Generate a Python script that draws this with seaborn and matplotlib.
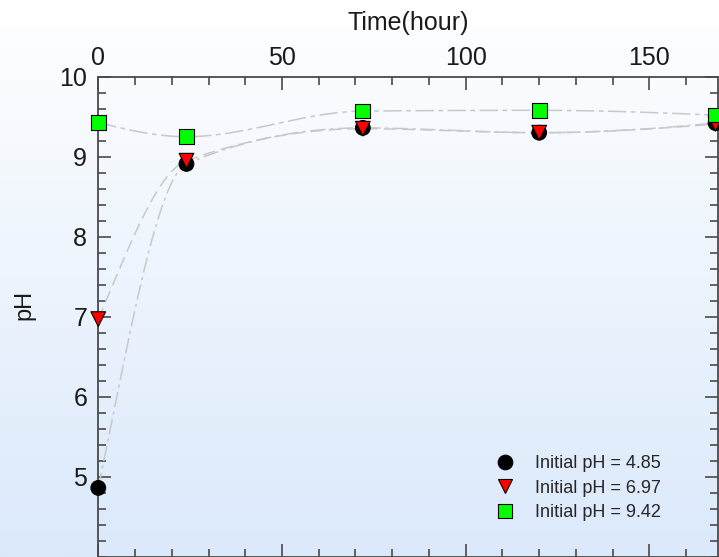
import numpy as np
import pandas as pd
import matplotlib
matplotlib.use("Agg")
import matplotlib.pyplot as plt
from matplotlib.colors import LinearSegmentedColormap
from matplotlib.lines import Line2D
from matplotlib.ticker import MultipleLocator
import seaborn as sns

# values
time_h = [0, 24, 72, 120, 168]
ph_485 = [4.86, 8.91, 9.36, 9.30, 9.42]
ph_697 = [6.97, 8.95, 9.35, 9.30, 9.41]
ph_942 = [9.43, 9.25, 9.57, 9.58, 9.52]
series_labels = ["Initial pH = 4.85", "Initial pH = 6.97", "Initial pH = 9.42"]
series_colors = ["#000000", "#ff0000", "#00ff00"]
series_markers = ["o", "v", "s"]
series_dashes = [(0, (10, 3, 2, 3)), (0, (8, 4)), (0, (12, 3, 3, 3))]


def pchip(x, y, xs):
    # monotone cubic (Fritsch-Carlson) used only to draw the smooth guide curves
    x = np.asarray(x, float)
    y = np.asarray(y, float)
    h = np.diff(x)
    d = np.diff(y) / h
    n = len(x)
    m = np.zeros(n)
    for k in range(1, n - 1):
        if d[k - 1] * d[k] > 0:
            w1 = 2 * h[k] + h[k - 1]
            w2 = h[k] + 2 * h[k - 1]
            m[k] = (w1 + w2) / (w1 / d[k - 1] + w2 / d[k])

    def end(h0, h1, d0, d1):
        s = ((2 * h0 + h1) * d0 - h0 * d1) / (h0 + h1)
        if np.sign(s) != np.sign(d0):
            s = 0.0
        elif np.sign(d0) != np.sign(d1) and abs(s) > abs(3 * d0):
            s = 3 * d0
        return s

    m[0] = end(h[0], h[1], d[0], d[1])
    m[-1] = end(h[-1], h[-2], d[-1], d[-2])
    idx = np.clip(np.searchsorted(x, xs) - 1, 0, n - 2)
    t = (xs - x[idx]) / h[idx]
    h00 = 2 * t**3 - 3 * t**2 + 1
    h10 = t**3 - 2 * t**2 + t
    h01 = -2 * t**3 + 3 * t**2
    h11 = t**3 - t**2
    return h00 * y[idx] + h10 * h[idx] * m[idx] + h01 * y[idx + 1] + h11 * h[idx] * m[idx + 1]


sns.set_theme(style="ticks")
plt.rcParams["font.family"] = ["Liberation Sans", "DejaVu Sans"]

df = pd.DataFrame({
    "time": time_h * 3,
    "pH": ph_485 + ph_697 + ph_942,
    "series": [series_labels[0]] * 5 + [series_labels[1]] * 5 + [series_labels[2]] * 5,
})

fig = plt.figure(figsize=(7.19, 5.57), dpi=100)

# background gradient, white at top to pale blue at bottom
bg = fig.add_axes([0, 0, 1, 1], zorder=-10)
grad = np.linspace(0, 1, 256).reshape(-1, 1)
cmap = LinearSegmentedColormap.from_list("bg", ["#ffffff", "#dbe9fb"])
bg.imshow(grad, aspect="auto", cmap=cmap, extent=[0, 1, 0, 1], origin="upper")
bg.axis("off")

ax = fig.add_axes([0.1367, 0.0005, 0.8626, 0.8618])
ax.set_facecolor("none")

xs = np.linspace(0, 168, 400)
for vals, dash in zip([ph_485, ph_697, ph_942], series_dashes):
    ax.plot(xs, pchip(time_h, vals, xs), color="#c8c8c8", lw=1.1, linestyle=dash, zorder=2)

sns.scatterplot(data=df, x="time", y="pH", hue="series", style="series",
                palette=dict(zip(series_labels, series_colors)),
                markers=dict(zip(series_labels, series_markers)),
                s=112, edgecolor="black", linewidth=0.8, clip_on=False,
                zorder=3, legend=False, ax=ax)

ax.set_xlim(0, 168.8)
ax.set_ylim(4, 10)
ax.xaxis.set_major_locator(MultipleLocator(50))
ax.xaxis.set_minor_locator(MultipleLocator(10))
ax.yaxis.set_major_locator(MultipleLocator(1))
ax.yaxis.set_minor_locator(MultipleLocator(0.2))
ax.set_yticks([5, 6, 7, 8, 9, 10])

spine_c = "#4a4a4a"
for sp in ax.spines.values():
    sp.set_visible(True)
    sp.set_color(spine_c)
    sp.set_linewidth(1.3)

ax.tick_params(which="both", direction="in", top=True, bottom=True, left=True, right=True,
               labeltop=True, labelbottom=False, color=spine_c, width=1.2)
ax.tick_params(which="major", length=9.5, labelsize=18, labelcolor="#1a1a1a")
ax.tick_params(axis="x", which="major", pad=5)
ax.tick_params(axis="y", which="major", pad=8)
ax.tick_params(which="minor", length=5.5)

ax.xaxis.set_label_position("top")
ax.set_xlabel("Time(hour)", fontsize=18, color="#1a1a1a", labelpad=11)
ax.set_ylabel("pH", fontsize=17, color="#1a1a1a")
ax.yaxis.set_label_coords(-0.1197, 0.524)
ax.yaxis.label.set_va("center")

handles = [Line2D([], [], linestyle="none", marker=mk, markersize=10.5, markerfacecolor=c,
                  markeredgecolor="black", markeredgewidth=0.8)
           for mk, c in zip(series_markers, series_colors)]
ax.legend(handles, series_labels, loc="center left", bbox_to_anchor=(0.6407, 0.143),
          frameon=False, fontsize=13, handlelength=1.0, handletextpad=1.2,
          labelspacing=0.42, borderpad=0, borderaxespad=0)

fig.savefig("out.png", dpi=100)
